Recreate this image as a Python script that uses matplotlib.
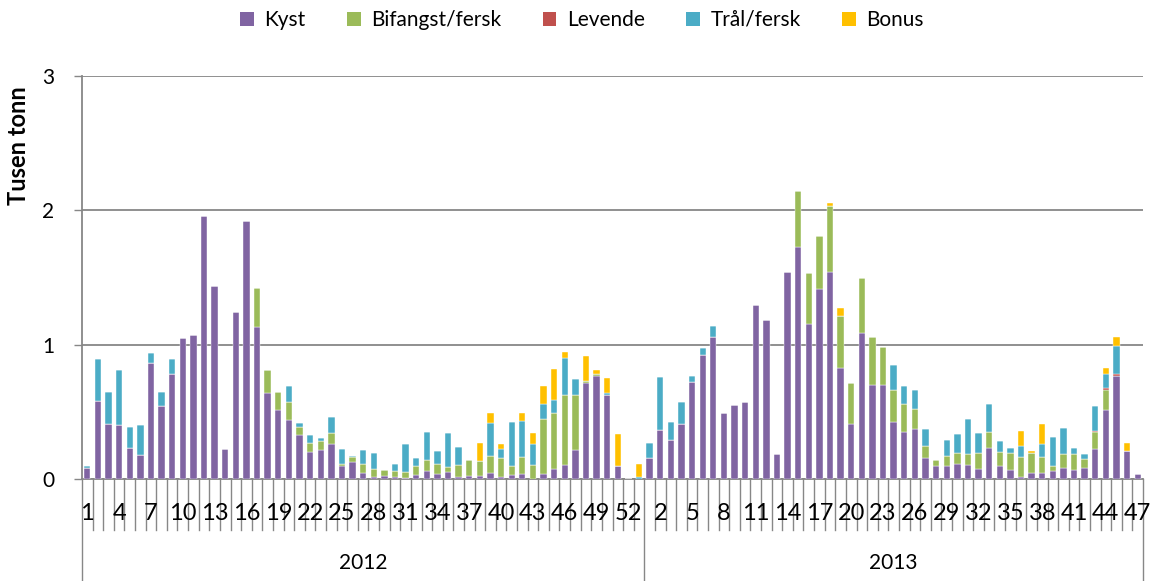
import numpy as np
import matplotlib.pyplot as plt
import matplotlib.transforms as transforms
from matplotlib.patches import Patch

plt.rcParams['font.family'] = ['Lato', 'DejaVu Sans']

# uker
weeks_2012 = list(range(1, 54))
weeks_2013 = list(range(1, 48))
years = ['2012', '2013']

# tusen tonn per uke, 2012 (uke 1-53) + 2013 (uke 1-47)
kyst = [0.08, 0.58, 0.41, 0.40, 0.23, 0.18, 0.86, 0.54, 0.785, 1.05,
        1.075, 1.96, 1.44, 0.22, 1.24, 1.92, 1.13, 0.64, 0.51, 0.44,
        0.33, 0.20, 0.215, 0.26, 0.094, 0.126, 0.047, 0.015, 0.022, 0.015,
        0.005, 0.027, 0.062, 0.035, 0.05, 0.015, 0.02, 0.02, 0.045, 0.012,
        0.032, 0.04, 0.003, 0.035, 0.074, 0.107, 0.218, 0.713, 0.765, 0.624,
        0.097, 0.0, 0.0,
        0.156, 0.364, 0.29, 0.409, 0.721, 0.921, 1.055, 0.495, 0.552, 0.575,
        1.293, 1.184, 0.188, 1.541, 1.724, 1.152, 1.412, 1.541, 0.827, 0.409,
        1.085, 0.699, 0.699, 0.424, 0.349, 0.372, 0.156, 0.097, 0.097, 0.111,
        0.102, 0.074, 0.23, 0.094, 0.067, 0.015, 0.045, 0.047, 0.059, 0.084,
        0.067, 0.084, 0.225, 0.51, 0.77, 0.206, 0.035]
bifangst = [0, 0, 0, 0, 0, 0, 0, 0, 0, 0,
            0, 0, 0, 0, 0, 0, 0.29, 0.17, 0.14, 0.135,
            0.055, 0.07, 0.07, 0.085, 0.02, 0.035, 0.062, 0.057, 0.045, 0.047,
            0.047, 0.073, 0.077, 0.074, 0.039, 0.089, 0.119, 0.111, 0.126, 0.142,
            0.062, 0.126, 0.101, 0.408, 0.414, 0.522, 0.406, 0.015, 0.018, 0,
            0, 0, 0,
            0, 0, 0, 0, 0, 0, 0, 0, 0, 0,
            0, 0, 0, 0, 0.419, 0.379, 0.396, 0.488, 0.384, 0.302,
            0.411, 0.361, 0.282, 0.235, 0.21, 0.146, 0.087, 0.047, 0.074, 0.08,
            0.086, 0.122, 0.117, 0.109, 0.124, 0.146, 0.146, 0.116, 0.04, 0.104,
            0.116, 0.062, 0.124, 0.156, 0, 0, 0]
levende = [0] * 95 + [0.01, 0.01, 0.013, 0, 0]
tral = [0.02, 0.31, 0.24, 0.415, 0.16, 0.22, 0.08, 0.11, 0.11, 0,
        0, 0, 0, 0, 0, 0, 0, 0, 0, 0.115,
        0.035, 0.055, 0.02, 0.115, 0.11, 0.013, 0.109, 0.121, 0, 0.052,
        0.211, 0.056, 0.208, 0.101, 0.255, 0.131, 0, 0, 0.245, 0.066,
        0.33, 0.265, 0.154, 0.119, 0.097, 0.27, 0.119, 0, 0, 0.015,
        0, 0, 0.015,
        0.11, 0.394, 0.131, 0.161, 0.044, 0.055, 0.087, 0, 0, 0,
        0, 0, 0, 0, 0, 0, 0, 0, 0, 0,
        0, 0, 0, 0.186, 0.136, 0.146, 0.131, 0, 0.116, 0.143,
        0.26, 0.146, 0.208, 0.082, 0.037, 0.084, 0, 0.095, 0.216, 0.193,
        0.05, 0.042, 0.183, 0.102, 0.21, 0, 0]
bonus = [0] * 37 + [0.134, 0.077, 0.038, 0, 0.062, 0.082, 0.134, 0.237, 0.05,
                    0, 0.186, 0.032, 0.116, 0.235, 0, 0.1] + \
        [0] * 17 + [0.027, 0.06] + [0] * 16 + [0.109, 0.014, 0.151] + \
        [0] * 5 + [0.049, 0.065, 0.064, 0]

series = [('Kyst', kyst, '#8064A2'),
          ('Bifangst/fersk', bifangst, '#9BBB59'),
          ('Levende', levende, '#C0504D'),
          ('Trål/fersk', tral, '#4BACC6'),
          ('Bonus', bonus, '#FFC000')]

n = len(weeks_2012) + len(weeks_2013)
x = np.arange(n)
grid_col = '#878787'

fig = plt.figure(figsize=(11.55, 5.81), dpi=100)
ax = fig.add_axes([82 / 1155, 1 - 479 / 581, (1143 - 82) / 1155, (479 - 76) / 581])

bottom = np.zeros(n)
for name, vals, col in series:
    vals = np.array(vals, dtype=float)
    ax.bar(x, vals, 0.6, bottom=bottom, color=col, edgecolor='white',
           linewidth=0.3, zorder=3)
    bottom += vals

ax.set_xlim(-0.5, n - 0.5)
ax.set_ylim(0, 3)
ax.set_yticks([0, 1, 2, 3])
ax.yaxis.grid(True, color=grid_col, lw=1.3, zorder=0)
ax.tick_params(axis='y', length=6, width=1, color=grid_col, labelsize=15, pad=14)
ax.set_xticks([])
for s in ['top', 'right']:
    ax.spines[s].set_visible(False)
ax.spines['left'].set_color(grid_col)
ax.spines['bottom'].set_color(grid_col)
ax.spines['left'].set_linewidth(1.3)
ax.spines['bottom'].set_linewidth(1.3)

# aksetittel øverst til venstre, som i Excel
fig.text(19 / 1155, 1 - 146 / 581, 'Tusen tonn', rotation=90, ha='center',
         va='center', fontsize=17, fontweight='bold')

# kategoriakse: uker og år
trans = transforms.blended_transform_factory(ax.transData, ax.transAxes)
h = 479 - 76
short = -51 / h
long_ = -102 / h
n12 = len(weeks_2012)
for k in range(n + 1):
    end = long_ if k in (0, n12, n) else short
    ax.plot([k - 0.5, k - 0.5], [0, end], color=grid_col, lw=1.0,
            transform=trans, clip_on=False)

labels = weeks_2012 + weeks_2013
for k in range(0, n, 3):
    ax.text(k, -34 / h, str(labels[k]), transform=trans, ha='center',
            va='center', fontsize=17)

ax.text((n12 - 1) / 2, -84 / h, years[0], transform=trans, ha='center',
        va='center', fontsize=15)
ax.text(n12 + (len(weeks_2013) - 1) / 2, -84 / h, years[1], transform=trans,
        ha='center', va='center', fontsize=15)

handles = [Patch(facecolor=c, label=nm) for nm, _, c in series]
fig.legend(handles=handles, loc='center', bbox_to_anchor=(582 / 1155, 1 - 20 / 581),
           ncol=5, frameon=False, fontsize=15, handlelength=0.65, handleheight=0.65,
           handletextpad=0.5, columnspacing=2.0)

fig.savefig('out.png', dpi=100)
